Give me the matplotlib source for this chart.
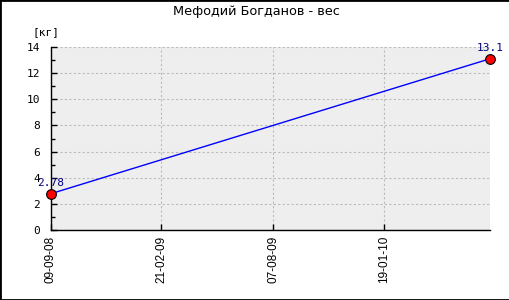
import numpy as np
import matplotlib.pyplot as plt
import matplotlib.dates as mdates
from datetime import datetime
from matplotlib.patches import Rectangle

# данные
dates = [datetime(2008, 9, 9), datetime(2010, 6, 27)]
weights = [2.78, 13.1]
tick_dates = [datetime(2008, 9, 9), datetime(2009, 2, 21), datetime(2009, 8, 7), datetime(2010, 1, 19)]
tick_labels = ["09-09-08", "21-02-09", "07-08-09", "19-01-10"]
title = "Мефодий Богданов - вес"
unit = "[кг]"

mono = "DejaVu Sans Mono"

fig = plt.figure(figsize=(5.1, 3.0), dpi=100)
fig.patches.append(Rectangle((0, 0), 1, 1, transform=fig.transFigure,
                             fill=False, edgecolor="black", linewidth=2))
ax = fig.add_axes([51/510, 70/300, 439/510, 183/300])
ax.set_facecolor("#eeeeee")

x = mdates.date2num(dates)
ax.plot(x, weights, color="blue", linewidth=1, zorder=3, clip_on=False)
ax.plot(x, weights, "o", markerfacecolor="red", markeredgecolor="black",
        markersize=7, markeredgewidth=0.8, zorder=4, clip_on=False)
for xi, v in zip(x, weights):
    ax.annotate(str(v), (xi, v), xytext=(0, 4), textcoords="offset points",
                ha="center", va="bottom", color="#000080", fontsize=8,
                family=mono, zorder=5)

ax.set_xlim(x[0], x[-1])
ax.set_ylim(0, 14)
ax.set_yticks(np.arange(0, 15, 2))
ax.set_yticks(np.arange(1, 15, 2), minor=True)
ax.set_xticks(mdates.date2num(tick_dates))
ax.set_xticklabels(tick_labels, rotation=90, family="Liberation Sans", fontsize=8.5)
for lab in ax.get_yticklabels():
    lab.set_family(mono)
    lab.set_fontsize(8)

ax.tick_params(axis="x", direction="in", length=4, width=1, pad=4)
ax.tick_params(axis="y", direction="in", length=4, width=1, pad=8)
ax.tick_params(axis="y", which="minor", direction="in", length=3, width=1)
ax.grid(True, which="major", linestyle=(0, (2, 2)), color="#bbbbbb", linewidth=0.8)
ax.set_axisbelow(True)
for s in ["top", "right"]:
    ax.spines[s].set_visible(False)
for s in ["left", "bottom"]:
    ax.spines[s].set_linewidth(1)

fig.text(256/510, 1 - 12/300, title, ha="center", va="center", family="DejaVu Sans", fontsize=9.3)
fig.text(46/510, 1 - 32/300, unit, ha="center", va="center", family=mono, fontsize=8)

fig.savefig("out.png", dpi=100)
